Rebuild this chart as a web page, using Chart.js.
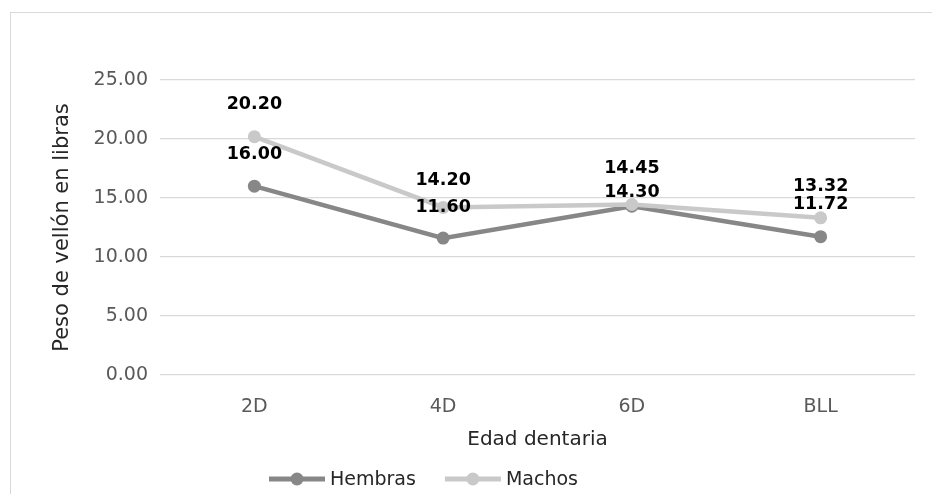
<!DOCTYPE html>
<html lang="es">
<head>
<meta charset="utf-8">
<title>Peso de vellón por edad dentaria</title>
<script src="https://cdn.jsdelivr.net/npm/chart.js@4.4.0/dist/chart.umd.min.js"></script>
<style>
    html, body { margin: 0; padding: 0; background: #fff; overflow: hidden; }
    #frame {
        position: absolute; left: 10px; top: 12px;
        width: 1000px; height: 600px;
        border: 1px solid #d9d9d9;
    }
    #wrap { position: absolute; left: 0; top: 0; width: 932px; height: 494px; }
</style>
</head>
<body>
<div id="frame"></div>
<div id="wrap"><canvas id="chart" width="932" height="494"></canvas></div>
<script>
// Peso de vellón (libras) por edad dentaria
const categories = ['2D', '4D', '6D', 'BLL'];
const hembras = [16.00, 11.60, 14.30, 11.72];
const machos = [20.20, 14.20, 14.45, 13.32];
const yTicks = [0, 5, 10, 15, 20, 25];

// vertical distance of each value label above its point
const hembrasLabelLift = [32, 31, 14, 32];
const machosLabelLift = [32, 27, 36, 31];

const FONT = '"DejaVu Sans", sans-serif';
const HEMBRAS_COLOR = '#878787';
const MACHOS_COLOR = '#c9c9c9';

// value labels drawn above the points, like the spreadsheet chart
const valueLabels = {
    id: 'valueLabels',
    afterDatasetsDraw(chart) {
        const ctx = chart.ctx;
        ctx.save();
        ctx.font = 'bold 17.5px ' + FONT;
        ctx.fillStyle = '#000';
        ctx.textAlign = 'center';
        ctx.textBaseline = 'middle';
        chart.data.datasets.forEach((ds, i) => {
            const meta = chart.getDatasetMeta(i);
            meta.data.forEach((pt, j) => {
                ctx.fillText(ds.data[j].toFixed(2), pt.x, pt.y - ds.labelLift[j]);
            });
        });
        ctx.restore();
    }
};

// legend under the axis title: line with a round marker, then the name
const lineLegend = {
    id: 'lineLegend',
    afterDraw(chart) {
        const ctx = chart.ctx;
        const y = 479;
        let x = 269;
        ctx.save();
        ctx.font = '19px ' + FONT;
        ctx.textBaseline = 'middle';
        ctx.textAlign = 'left';
        chart.data.datasets.forEach(ds => {
            ctx.strokeStyle = ds.borderColor;
            ctx.lineWidth = 5;
            ctx.beginPath();
            ctx.moveTo(x, y);
            ctx.lineTo(x + 56, y);
            ctx.stroke();
            ctx.fillStyle = ds.borderColor;
            ctx.beginPath();
            ctx.arc(x + 28, y, 6.5, 0, Math.PI * 2);
            ctx.fill();
            ctx.fillStyle = '#262626';
            ctx.fillText(ds.label, x + 61, y + 1);
            x += 61 + ctx.measureText(ds.label).width + 29;
        });
        ctx.restore();
    }
};

const ctx = document.getElementById('chart').getContext('2d');
new Chart(ctx, {
    type: 'line',
    data: {
        labels: categories,
        datasets: [
            {
                label: 'Hembras',
                data: hembras,
                labelLift: hembrasLabelLift,
                borderColor: HEMBRAS_COLOR,
                backgroundColor: HEMBRAS_COLOR,
                borderWidth: 4.5,
                pointRadius: 6.5,
                pointBorderWidth: 0,
                pointBackgroundColor: HEMBRAS_COLOR,
                tension: 0,
                order: 1
            },
            {
                label: 'Machos',
                data: machos,
                labelLift: machosLabelLift,
                borderColor: MACHOS_COLOR,
                backgroundColor: MACHOS_COLOR,
                borderWidth: 4.5,
                pointRadius: 6.5,
                pointBorderWidth: 0,
                pointBackgroundColor: MACHOS_COLOR,
                tension: 0,
                order: 0
            }
        ]
    },
    options: {
        responsive: false,
        animation: false,
        layout: {
            padding: { top: 80, left: 46, right: 17, bottom: 42 }
        },
        plugins: {
            legend: { display: false },
            tooltip: { enabled: false }
        },
        scales: {
            x: {
                offset: true,
                grid: { display: false, drawTicks: false },
                border: { display: false },
                ticks: {
                    padding: 21,
                    color: '#595959',
                    font: { family: FONT, size: 19 }
                },
                title: {
                    display: true,
                    text: 'Edad dentaria',
                    color: '#262626',
                    font: { family: FONT, size: 20 },
                    padding: { top: 0, bottom: 0 }
                },
                afterFit(scale) { scale.height = 77; }
            },
            y: {
                min: 0,
                max: 25,
                afterBuildTicks(scale) {
                    scale.ticks = yTicks.map(v => ({ value: v }));
                },
                grid: { color: '#d9d9d9', lineWidth: 1.3, drawTicks: false },
                border: { display: false },
                ticks: {
                    padding: 12,
                    color: '#595959',
                    font: { family: FONT, size: 19 },
                    callback: value => value.toFixed(2)
                },
                title: {
                    display: true,
                    text: 'Peso de vellón en libras',
                    color: '#262626',
                    font: { family: FONT, size: 21 },
                    padding: { top: 4, bottom: 0 }
                },
                afterFit(scale) { scale.width = 114; }
            }
        }
    },
    plugins: [valueLabels, lineLegend]
});
</script>
</body>
</html>
